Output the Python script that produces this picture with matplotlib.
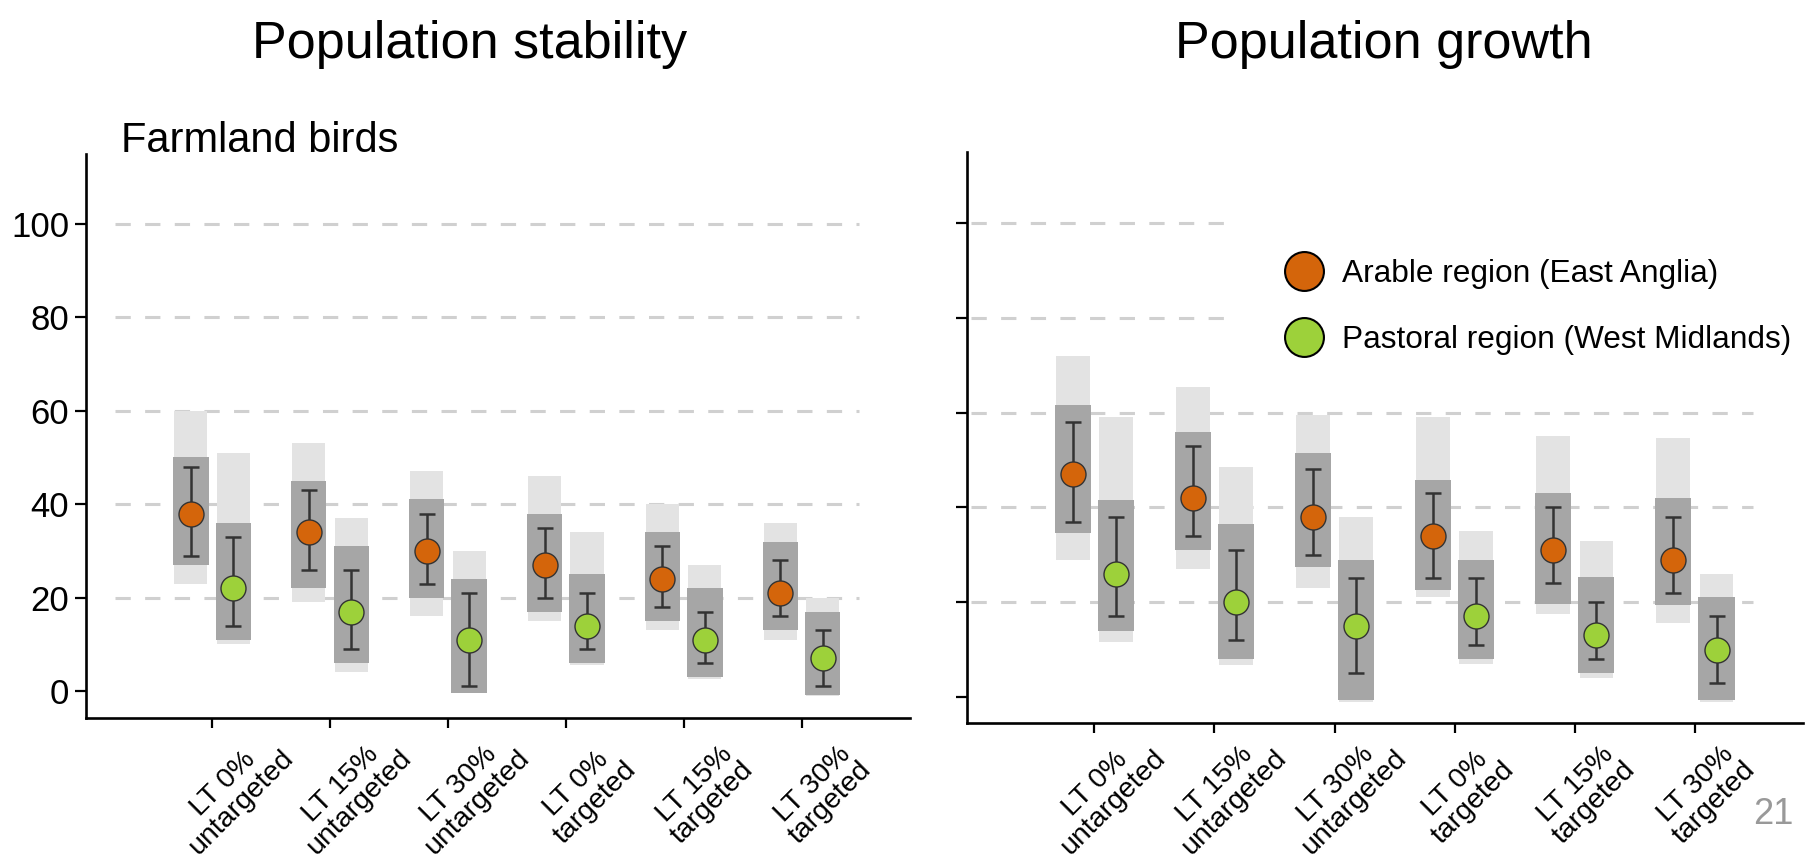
import numpy as np
import matplotlib.pyplot as plt
from matplotlib.lines import Line2D
from matplotlib.transforms import ScaledTranslation

plt.rcParams['font.family'] = ['Liberation Sans', 'DejaVu Sans']

# Treatments on the x axis
categories = ['LT 0%\nuntargeted', 'LT 15%\nuntargeted', 'LT 30%\nuntargeted',
              'LT 0%\ntargeted', 'LT 15%\ntargeted', 'LT 30%\ntargeted']

# Population stability - arable region (East Anglia)
stab_ar_mean = [38, 34, 30, 27, 24, 21]
stab_ar_lo = [29, 26, 23, 20, 18, 16]
stab_ar_hi = [48, 43, 38, 35, 31, 28]
stab_ar_core_lo = [27, 22, 20, 17, 15, 13]
stab_ar_core_hi = [50, 45, 41, 38, 34, 32]
stab_ar_ext_lo = [23, 19, 16, 15, 13, 11]
stab_ar_ext_hi = [60, 53, 47, 46, 40, 36]

# Population stability - pastoral region (West Midlands)
stab_pa_mean = [22, 17, 11, 14, 11, 7]
stab_pa_lo = [14, 9, 1, 9, 6, 1]
stab_pa_hi = [33, 26, 21, 21, 17, 13]
stab_pa_core_lo = [11, 6, -0.5, 6, 3, -0.8]
stab_pa_core_hi = [36, 31, 24, 25, 22, 17]
stab_pa_ext_lo = [10, 4, -0.5, 5.5, 2.5, -1]
stab_pa_ext_hi = [51, 37, 30, 34, 27, 20]

# Population growth - arable region (East Anglia)
grow_ar_mean = [47, 42, 38, 34, 31, 29]
grow_ar_lo = [37, 34, 30, 25, 24, 22]
grow_ar_hi = [58, 53, 48, 43, 40, 38]
grow_ar_core_lo = [34.5, 31, 27.5, 22.5, 19.7, 19.4]
grow_ar_core_hi = [61.6, 56, 51.4, 45.8, 43, 42]
grow_ar_ext_lo = [29, 27, 23, 21, 17.6, 15.5]
grow_ar_ext_hi = [72, 65.5, 59.5, 59, 55, 54.6]

# Population growth - pastoral region (West Midlands)
grow_pa_mean = [26, 20, 15, 17, 13, 10]
grow_pa_lo = [17, 12, 5, 11, 8, 3]
grow_pa_hi = [38, 31, 25, 25, 20, 17]
grow_pa_core_lo = [14, 8, -0.7, 8, 5, -0.7]
grow_pa_core_hi = [41.5, 36.6, 29, 29, 25.4, 21]
grow_pa_ext_lo = [11.6, 6.7, -1, 7, 4, -1]
grow_pa_ext_hi = [59, 48.6, 38, 35, 33, 26]

orange = '#D4650B'
green = '#9DD13A'
W, H = 1811, 857

fig = plt.figure(figsize=(W / 100, H / 100), dpi=100)
axL = fig.add_axes([86 / W, 139 / H, (910 - 86) / W, (718 - 154) / H])
axR = fig.add_axes([967 / W, 134 / H, (1803 - 967) / W, (723 - 152) / H])

x = np.arange(len(categories))


def draw_series(ax, off, mean, lo, hi, core_lo, core_hi, ext_lo, ext_hi, color):
    xs = x + off
    mean, lo, hi = np.array(mean), np.array(lo), np.array(hi)
    core_lo, core_hi = np.array(core_lo), np.array(core_hi)
    ext_lo, ext_hi = np.array(ext_lo), np.array(ext_hi)
    # sparse tail of the simulations, then the dense core
    ax.bar(xs, ext_hi - ext_lo, bottom=ext_lo, width=0.28, color='#e3e3e3', zorder=2)
    ax.bar(xs, core_hi - core_lo, bottom=core_lo, width=0.3, color='#a6a6a6', zorder=3)
    ax.errorbar(xs, mean, yerr=[mean - lo, hi - mean], fmt='none', ecolor='#333333',
                elinewidth=1.8, capsize=6, capthick=1.8, zorder=4)
    ax.plot(xs, mean, 'o', ms=18, mfc=color, mec='#333333', mew=1, zorder=5)


def style_axes(ax, ylim, xlim, grid_from, grid_to, label_dx, label_dy, show_labels):
    ax.set_xlim(*xlim)
    ax.set_ylim(*ylim)
    for s in ['top', 'right']:
        ax.spines[s].set_visible(False)
    for s in ['left', 'bottom']:
        ax.spines[s].set_linewidth(1.9)
        ax.spines[s].set_color('black')
    ax.set_yticks([0, 20, 40, 60, 80, 100])
    ax.tick_params(axis='y', length=8, width=1.6, pad=4, labelsize=25,
                   labelleft=show_labels)
    ax.tick_params(axis='x', length=7, width=1.6, pad=4, labelsize=20.5)
    ax.hlines([20, 40, 60, 80, 100], grid_from, grid_to, colors='#d0d0d0',
              linestyles=(0, (5, 4.7)), linewidth=2.2, zorder=1)
    ax.set_xticks(x)
    ax.set_xticklabels(categories, rotation=45, ha='center', va='center',
                       rotation_mode='anchor', multialignment='center', linespacing=1.0)
    for lab in ax.get_xticklabels():
        lab.set_transform(lab.get_transform() +
                          ScaledTranslation(label_dx / 100, label_dy / 100, fig.dpi_scale_trans))


style_axes(axL, (-5.8, 115), (-1.07, 5.92), -0.82, 5.49, 20, -60, True)
style_axes(axR, (-5.5, 115), (-1.06, 5.9), -1.03, 5.48, 10, -55, False)

draw_series(axL, -0.18, stab_ar_mean, stab_ar_lo, stab_ar_hi, stab_ar_core_lo,
            stab_ar_core_hi, stab_ar_ext_lo, stab_ar_ext_hi, orange)
draw_series(axL, 0.18, stab_pa_mean, stab_pa_lo, stab_pa_hi, stab_pa_core_lo,
            stab_pa_core_hi, stab_pa_ext_lo, stab_pa_ext_hi, green)
draw_series(axR, -0.18, grow_ar_mean, grow_ar_lo, grow_ar_hi, grow_ar_core_lo,
            grow_ar_core_hi, grow_ar_ext_lo, grow_ar_ext_hi, orange)
draw_series(axR, 0.18, grow_pa_mean, grow_pa_lo, grow_pa_hi, grow_pa_core_lo,
            grow_pa_core_hi, grow_pa_ext_lo, grow_pa_ext_hi, green)

# Legend (white box hides the gridlines behind it)
handles = [Line2D([], [], marker='o', ls='none', ms=28, mfc=orange, mec='black', mew=1.5),
           Line2D([], [], marker='o', ls='none', ms=28, mfc=green, mec='black', mew=1.5)]
leg = axR.legend(handles, ['Arable region (East Anglia)', 'Pastoral region (West Midlands)'],
                 loc='upper left', bbox_to_anchor=(1238 / W, 1 - 212 / H),
                 bbox_transform=fig.transFigure, fontsize=22.8, frameon=True,
                 facecolor='white', edgecolor='none', framealpha=1,
                 borderpad=1.48, handlelength=1.2, handletextpad=0.6,
                 labelspacing=1.15, borderaxespad=0)
leg.set_zorder(10)

# Titles
fig.text(470 / W, 1 - 58 / H, 'Population stability', fontsize=37.5, ha='center', va='baseline')
fig.text(1384 / W, 1 - 58 / H, 'Population growth', fontsize=37.5, ha='center', va='baseline')
fig.text(121 / W, 1 - 152 / H, 'Farmland birds', fontsize=30, ha='left', va='baseline')

# Slide number
fig.text(1773 / W, 1 - 815 / H, '21', fontsize=26, color='#999999', ha='center', va='center')

fig.savefig('out.png', dpi=100)
